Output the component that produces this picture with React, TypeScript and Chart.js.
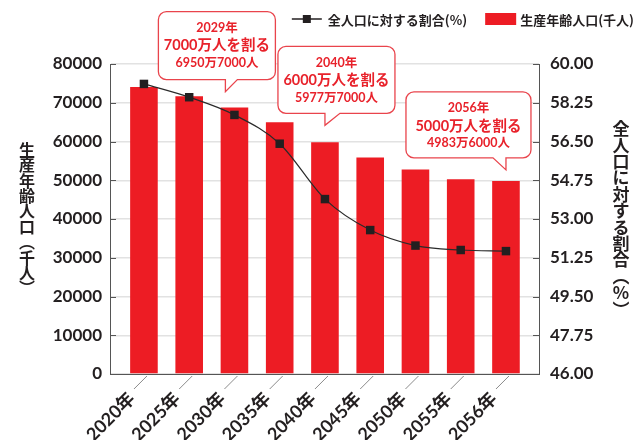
import React, { useEffect, useRef } from 'react';
import { Chart, registerables } from 'chart.js';

Chart.register(...registerables);

// ---- data ----
const years = ['2020年', '2025年', '2030年', '2035年', '2040年', '2045年', '2050年', '2055年', '2056年'];
const workingAge = [74058, 71701, 68754, 64942, 59777, 55845, 52750, 50276, 49836]; // 千人
const shareOfTotal = [59.1, 58.5, 57.7, 56.4, 53.9, 52.5, 51.8, 51.6, 51.55]; // %
const leftTicks = [0, 10000, 20000, 30000, 40000, 50000, 60000, 70000, 80000];
const rightTicks = [46, 47.75, 49.5, 51.25, 53, 54.75, 56.5, 58.25, 60];

const barLabel = '生産年齢人口(千人)';
const lineLabel = '全人口に対する割合(%)';
const leftTitle = '生産年齢人口︵千人︶';
const rightTitle = '全人口に対する割合︵%︶';

// callouts
const calloutYears = ['2029年', '2040年', '2056年'];
const calloutHeadlines = ['7000万人を割る', '6000万人を割る', '5000万人を割る'];
const calloutValues = ['6950万7000人', '5977万7000人', '4983万6000人'];
const calloutIndex = [1.8, 4, 8]; // position on the year axis
const calloutValueThousand = [69507, 59777, 49836];

// ---- styles / layout ----
const FONT = 'Lato, "Noto Sans CJK JP", "Noto Sans", sans-serif';
const CJK = '"Noto Sans CJK JP", "Noto Sans", sans-serif';
const RED = '#ed1c24';
const CALLOUT_RED = '#e8222b';
const CALLOUT_BORDER = '#e9444c';
const DARK = '#231f20';
const AXIS = '#555555';

const calloutLayout = [
  { gap: 13, left: -67, width: 117, height: 68, tailW: 12, tailSide: 'right' },
  { gap: 17, left: -47, width: 117, height: 67, tailW: 15, tailSide: 'right' },
  { gap: 11, left: -100, width: 125, height: 66, tailW: 13, tailSide: 'left' },
];

function drawVertical(ctx: CanvasRenderingContext2D, text: string, cx: number, cy: number, font: string, pitch: number) {
  const chars = Array.from(text);
  ctx.font = font;
  ctx.textAlign = 'center';
  ctx.textBaseline = 'middle';
  const total = chars.length * pitch;
  chars.forEach((c, i) => ctx.fillText(c, cx, cy - total / 2 + pitch * (i + 0.5)));
}

const decorations = {
  id: 'decorations',
  afterDraw(chart: any) {
    const { ctx, chartArea, scales } = chart;
    const xs = scales.x;
    const ys = scales.y;
    const ys1 = scales.y1;
    ctx.save();

    // inward tick marks
    ctx.strokeStyle = AXIS;
    ctx.lineWidth = 1;
    ctx.beginPath();
    leftTicks.forEach((v) => {
      const py = Math.round(ys.getPixelForValue(v)) + 0.5;
      ctx.moveTo(chartArea.left, py);
      ctx.lineTo(chartArea.left + 6, py);
    });
    rightTicks.forEach((v) => {
      const py = Math.round(ys1.getPixelForValue(v)) + 0.5;
      ctx.moveTo(chartArea.right - 6, py);
      ctx.lineTo(chartArea.right, py);
    });
    ctx.stroke();

    // leader lines for year labels
    ctx.strokeStyle = '#8a8a8a';
    ctx.beginPath();
    years.forEach((_, i) => {
      const px = xs.getPixelForValue(i);
      ctx.moveTo(px + 3, chartArea.bottom + 2);
      ctx.lineTo(px - 10, chartArea.bottom + 15);
    });
    ctx.stroke();

    // axis titles (vertical)
    ctx.fillStyle = DARK;
    const midY = (chartArea.top + chartArea.bottom) / 2;
    drawVertical(ctx, leftTitle, 27, midY, `bold 16px ${CJK}`, 15.4);
    drawVertical(ctx, rightTitle, 621, midY, `bold 17px ${CJK}`, 16.4);

    // callouts
    calloutYears.forEach((yr, i) => {
      const L = calloutLayout[i];
      const tipX = xs.getPixelForValue(calloutIndex[i]);
      const tipY = ys.getPixelForValue(calloutValueThousand[i]) - L.gap;
      const bx = tipX + L.left;
      const bh = L.height;
      const by = tipY - 12 - bh;
      const bottom = by + bh;
      const r = 8;
      ctx.beginPath();
      ctx.moveTo(bx + r, by);
      ctx.lineTo(bx + L.width - r, by);
      ctx.arcTo(bx + L.width, by, bx + L.width, by + r, r);
      ctx.lineTo(bx + L.width, bottom - r);
      ctx.arcTo(bx + L.width, bottom, bx + L.width - r, bottom, r);
      if (L.tailSide === 'right') {
        ctx.lineTo(tipX + L.tailW, bottom);
        ctx.lineTo(tipX, tipY);
        ctx.lineTo(tipX, bottom);
      } else {
        ctx.lineTo(tipX, bottom);
        ctx.lineTo(tipX, tipY);
        ctx.lineTo(tipX - L.tailW, bottom);
      }
      ctx.lineTo(bx + r, bottom);
      ctx.arcTo(bx, bottom, bx, bottom - r, r);
      ctx.lineTo(bx, by + r);
      ctx.arcTo(bx, by, bx + r, by, r);
      ctx.closePath();
      ctx.fillStyle = '#ffffff';
      ctx.fill();
      ctx.strokeStyle = CALLOUT_BORDER;
      ctx.lineWidth = 1.3;
      ctx.stroke();

      const cx = bx + L.width / 2;
      ctx.fillStyle = CALLOUT_RED;
      ctx.textAlign = 'center';
      ctx.textBaseline = 'middle';
      ctx.font = `bold 12.5px ${FONT}`;
      ctx.fillText(yr, cx, by + 16.5);
      ctx.font = `bold 14.5px ${FONT}`;
      ctx.fillText(calloutHeadlines[i], cx, by + 34);
      ctx.font = `bold 12.5px ${FONT}`;
      ctx.fillText(calloutValues[i], cx, by + 51.5);
    });

    // legend
    ctx.font = `bold 13px ${CJK}`;
    ctx.textBaseline = 'middle';
    ctx.textAlign = 'left';
    const ly = 19;
    const w2 = ctx.measureText(barLabel).width;
    const t2x = 634 - w2;
    const boxX = t2x - 35;
    ctx.fillStyle = RED;
    ctx.fillRect(boxX, ly - 6, 31, 12);
    ctx.fillStyle = DARK;
    ctx.fillText(barLabel, t2x, ly + 1);
    const w1 = ctx.measureText(lineLabel).width;
    const t1x = boxX - 18 - w1;
    ctx.fillText(lineLabel, t1x, ly + 1);
    const lx = t1x - 36;
    ctx.strokeStyle = DARK;
    ctx.lineWidth = 1.5;
    ctx.beginPath();
    ctx.moveTo(lx, ly);
    ctx.lineTo(lx + 30, ly);
    ctx.stroke();
    ctx.fillRect(lx + 11, ly - 4, 8, 8);

    ctx.restore();
  },
};

export default function App() {
  const canvasRef = useRef<HTMLCanvasElement | null>(null);

  useEffect(() => {
    document.body.style.margin = '0';
    const canvas = canvasRef.current;
    if (!canvas) return;
    const tickFont = { family: FONT, size: 17, weight: 'bold' as const };

    const chart = new Chart(canvas, {
      type: 'bar',
      data: {
        datasets: [
          {
            type: 'line',
            label: lineLabel,
            data: shareOfTotal.map((v, i) => ({ x: i, y: v })),
            yAxisID: 'y1',
            borderColor: '#2a2a2a',
            borderWidth: 1.2,
            pointStyle: 'rect',
            pointRadius: 6,
            pointBackgroundColor: DARK,
            pointBorderColor: DARK,
            pointBorderWidth: 0,
            cubicInterpolationMode: 'monotone',
            order: 0,
          } as any,
          {
            type: 'bar',
            label: barLabel,
            data: workingAge.map((v, i) => ({ x: i, y: v })),
            yAxisID: 'y',
            backgroundColor: RED,
            borderWidth: 0,
            categoryPercentage: 1,
            barPercentage: 0.61,
            order: 1,
          } as any,
        ],
      },
      options: {
        responsive: false,
        animation: false,
        events: [],
        layout: { padding: { top: 64, left: 0, right: 0, bottom: 0 } },
        plugins: { legend: { display: false }, tooltip: { enabled: false } },
        scales: {
          x: {
            type: 'linear',
            offset: false,
            min: -0.75,
            max: 8.73,
            afterBuildTicks: (s: any) => {
              s.ticks = years.map((_, i) => ({ value: i }));
            },
            afterFit: (s: any) => {
              s.height = 66;
            },
            grid: { display: false, drawTicks: false },
            border: { display: true, color: AXIS, width: 1 },
            ticks: {
              autoSkip: false,
              minRotation: 45,
              maxRotation: 45,
              padding: 14,
              labelOffset: -12,
              color: DARK,
              font: { family: FONT, size: 18, weight: 'bold' as const },
              callback: (v: any) => years[Number(v)] ?? '',
            },
          },
          y: {
            type: 'linear',
            position: 'left',
            min: 0,
            max: 80000,
            afterBuildTicks: (s: any) => {
              s.ticks = leftTicks.map((v) => ({ value: v }));
            },
            afterFit: (s: any) => {
              s.width = 110;
            },
            grid: { color: '#e2e2e2', lineWidth: 1.5, drawTicks: false },
            border: { display: true, color: AXIS, width: 1 },
            ticks: {
              padding: 8,
              color: DARK,
              font: tickFont,
              callback: (v: any) => String(v),
            },
          },
          y1: {
            type: 'linear',
            position: 'right',
            min: 46,
            max: 60,
            afterBuildTicks: (s: any) => {
              s.ticks = rightTicks.map((v) => ({ value: v }));
            },
            afterFit: (s: any) => {
              s.width = 96;
            },
            grid: { drawOnChartArea: false, drawTicks: false },
            border: { display: true, color: AXIS, width: 1 },
            ticks: {
              padding: 11,
              color: DARK,
              font: tickFont,
              callback: (v: any) => Number(v).toFixed(2),
            },
          },
        },
      },
      plugins: [decorations],
    });

    return () => chart.destroy();
  }, []);

  return (
    <div style={{ width: 635, height: 440, background: '#ffffff' }}>
      <canvas ref={canvasRef} width={635} height={440} style={{ display: 'block' }} />
    </div>
  );
}
